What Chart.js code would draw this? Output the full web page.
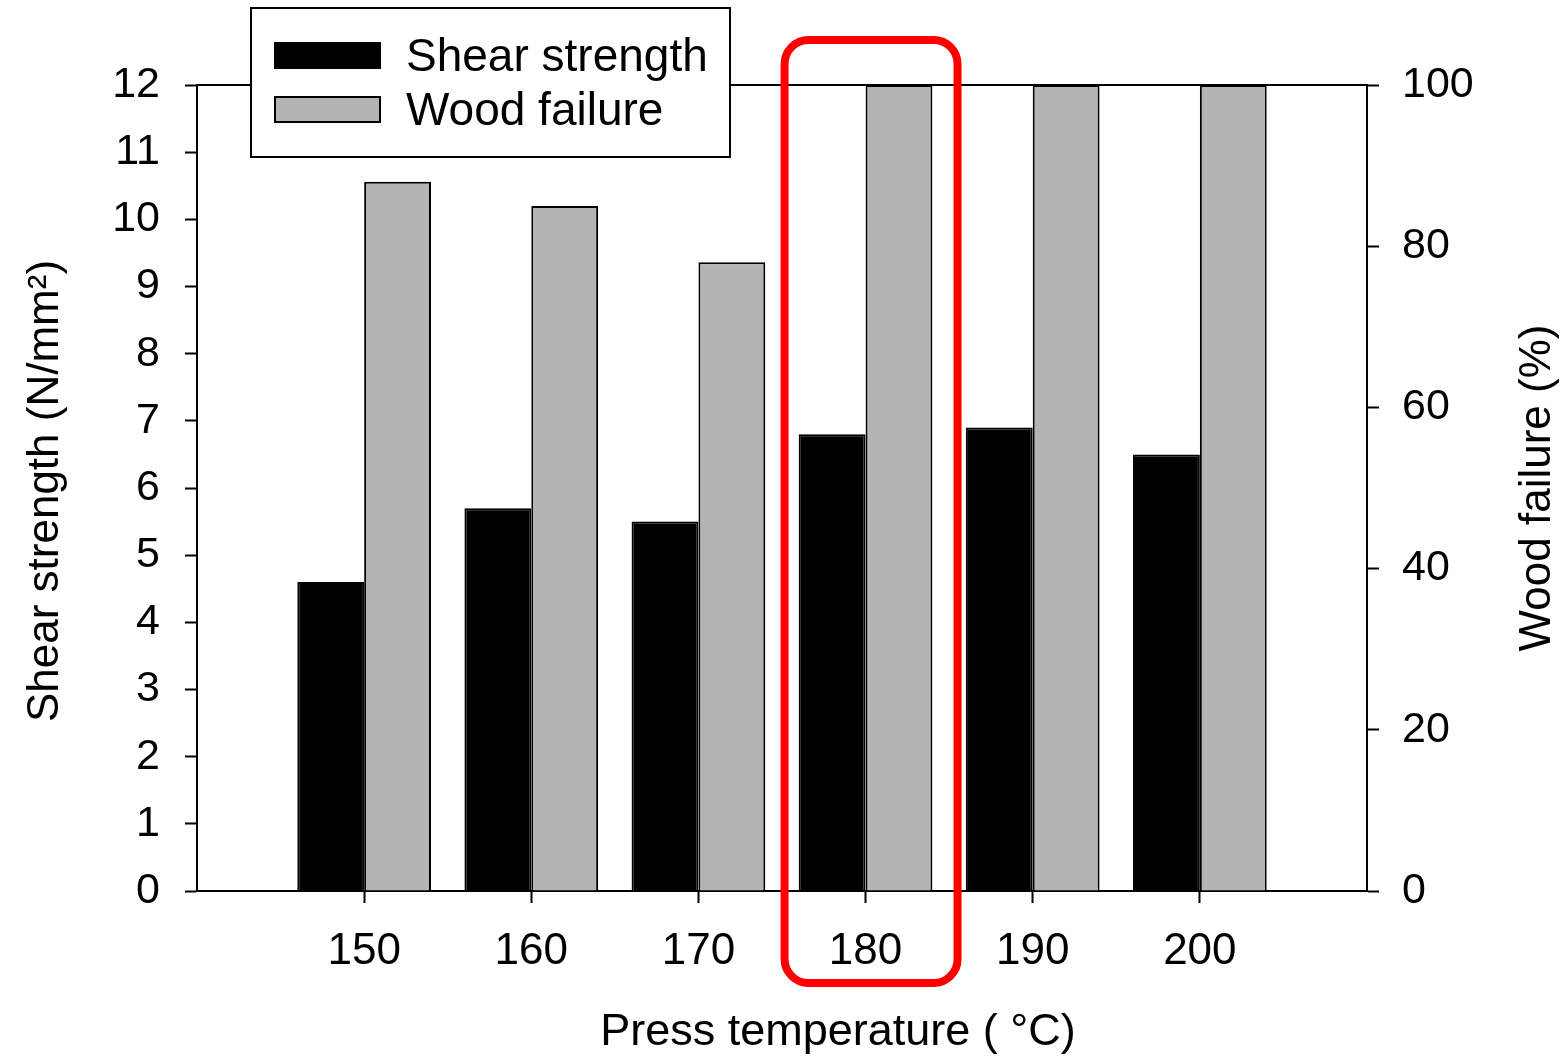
<!DOCTYPE html>
<html>
<head>
<meta charset="utf-8">
<script src="https://cdn.jsdelivr.net/npm/chart.js@4.4.0/dist/chart.umd.min.js"></script>
<style>
    body { margin: 0; background: #ffffff; }
    #wrap { width: 1566px; height: 1056px; }
</style>
</head>
<body>
<div id="wrap"><canvas id="shearChart" width="1566" height="1056"></canvas></div>
<script>
// chart data
const temperatures = [150, 160, 170, 180, 190, 200];
const shearStrength = [4.6, 5.7, 5.5, 6.8, 6.9, 6.5];
const woodFailure = [88, 85, 78, 100, 100, 100];
const seriesNames = ["Shear strength", "Wood failure"];
const highlightTemp = 180;

const FONT = "'Liberation Sans', Arial, sans-serif";
const GRAY = "#b4b4b4";

// draws the axis titles, the top frame line, the boxed legend and the red highlight
const decorations = {
    id: "decorations",
    afterDraw(chart) {
        const ctx = chart.ctx;
        const area = chart.chartArea;
        const x = chart.scales.x;
        ctx.save();

        // top frame line
        ctx.strokeStyle = "#000";
        ctx.lineWidth = 2;
        ctx.beginPath();
        ctx.moveTo(area.left, area.top);
        ctx.lineTo(area.right, area.top);
        ctx.stroke();

        // axis titles
        ctx.fillStyle = "#000";
        ctx.textAlign = "center";
        ctx.textBaseline = "alphabetic";
        ctx.font = "45px " + FONT;
        ctx.fillText("Press temperature ( \u00B0C)", 838, 1045);

        ctx.font = "44px " + FONT;
        ctx.save();
        ctx.translate(58, (area.top + area.bottom) / 2 + 3);
        ctx.rotate(-Math.PI / 2);
        ctx.fillText("Shear strength (N/mm\u00B2)", 0, 0);
        ctx.restore();

        ctx.save();
        ctx.translate(1550, (area.top + area.bottom) / 2);
        ctx.rotate(-Math.PI / 2);
        ctx.fillText("Wood failure (%)", 0, 0);
        ctx.restore();

        // legend box
        ctx.fillStyle = "#fff";
        ctx.fillRect(251, 8, 479, 149);
        ctx.strokeRect(251, 8, 479, 149);
        const fills = ["#000", GRAY];
        const rows = [43, 97];
        chart.data.datasets.forEach((ds, i) => {
            ctx.fillStyle = fills[i];
            ctx.fillRect(275, rows[i], 105, 25);
            ctx.strokeStyle = "#000";
            ctx.lineWidth = 2;
            ctx.strokeRect(275, rows[i], 105, 25);
            ctx.fillStyle = "#000";
            ctx.font = "46px " + FONT;
            ctx.textAlign = "left";
            ctx.fillText(ds.label, 406, rows[i] + 28);
        });

        // red highlight round the 180 group
        const cx = x.getPixelForValue(highlightTemp);
        ctx.strokeStyle = "#ff0000";
        ctx.lineWidth = 8;
        ctx.beginPath();
        ctx.roundRect(cx - 81, 40, 173, 943, 24);
        ctx.stroke();

        ctx.restore();
    }
};

function tick_style() {
    return {
        offset: false,
        drawOnChartArea: false,
        drawTicks: true,
        tickLength: 12,
        tickWidth: 2,
        tickColor: "#000"
    };
}

const ctx = document.getElementById("shearChart").getContext("2d");

new Chart(ctx, {
    type: "bar",
    data: {
        datasets: [{
            label: seriesNames[0],
            data: temperatures.map((t, i) => ({x: t, y: shearStrength[i]})),
            backgroundColor: "#000",
            borderColor: "#000",
            borderWidth: 2,
            yAxisID: "y"
        }, {
            label: seriesNames[1],
            data: temperatures.map((t, i) => ({x: t, y: woodFailure[i]})),
            backgroundColor: GRAY,
            borderColor: "#000",
            borderWidth: 2,
            yAxisID: "y1"
        }]
    },
    options: {
        responsive: false,
        animation: false,
        devicePixelRatio: 1,
        categoryPercentage: 0.8,
        barPercentage: 1.0,
        layout: {
            padding: {top: 85, left: 0, right: 0, bottom: 0}
        },
        plugins: {
            legend: {display: false},
            tooltip: {enabled: false}
        },
        scales: {
            x: {
                type: "linear",
                offset: false,
                min: 140,
                max: 210,
                afterBuildTicks: scale => {
                    scale.ticks = scale.ticks.filter(t => t.value >= 150 && t.value <= 200);
                },
                afterFit: scale => { scale.height = 165; },
                ticks: {
                    stepSize: 10,
                    padding: 22,
                    color: "#000",
                    font: {family: FONT, size: 44}
                },
                grid: tick_style(),
                border: {display: true, color: "#000", width: 2}
            },
            y: {
                position: "left",
                min: 0,
                max: 12,
                afterFit: scale => { scale.width = 197; },
                ticks: {
                    stepSize: 1,
                    padding: 25,
                    color: "#000",
                    font: {family: FONT, size: 43}
                },
                grid: tick_style(),
                border: {display: true, color: "#000", width: 2}
            },
            y1: {
                position: "right",
                min: 0,
                max: 100,
                afterFit: scale => { scale.width = 199; },
                ticks: {
                    stepSize: 20,
                    padding: 23,
                    color: "#000",
                    font: {family: FONT, size: 43}
                },
                grid: tick_style(),
                border: {display: true, color: "#000", width: 2}
            }
        }
    },
    plugins: [decorations]
});
</script>
</body>
</html>
